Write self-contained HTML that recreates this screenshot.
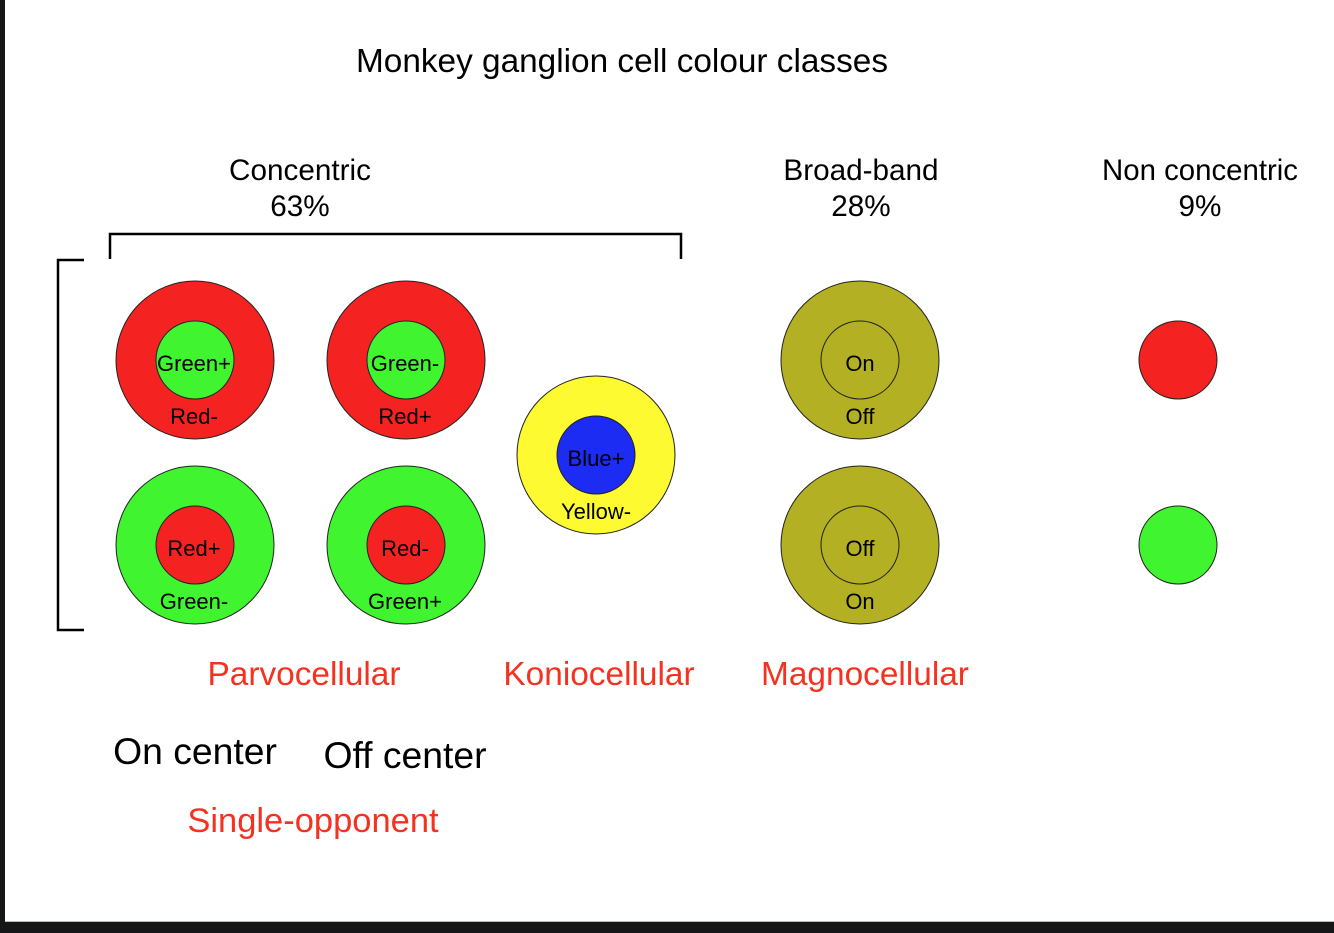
<!DOCTYPE html>
<html><head><meta charset="utf-8"><style>
html,body{margin:0;padding:0;background:#fff;}
svg{display:block;}
text{font-family:"Liberation Sans",Arial,sans-serif;}
</style></head><body>
<svg width="1334" height="933" viewBox="0 0 1334 933" xmlns="http://www.w3.org/2000/svg">
<rect x="0" y="0" width="1334" height="933" fill="#fff"/>
<rect x="0" y="0" width="5" height="933" fill="#141618"/>
<rect x="0" y="922" width="1334" height="11" fill="#141618"/>
<rect x="5" y="921" width="1329" height="1" fill="#bbb"/>

<text x="622" y="72" font-size="33" text-anchor="middle" textLength="532" lengthAdjust="spacingAndGlyphs">Monkey ganglion cell colour classes</text>
<g font-size="29.7" text-anchor="middle">
<text x="300" y="180">Concentric</text><text x="300" y="216">63%</text>
<text x="861" y="180">Broad-band</text><text x="861" y="216">28%</text>
<text x="1200" y="180" textLength="196" lengthAdjust="spacingAndGlyphs">Non concentric</text><text x="1200" y="216">9%</text>
</g>

<g fill="none" stroke="#000" stroke-width="2.5">
<polyline points="110,259 110,234 681,234 681,259"/>
<polyline points="84,260 58,260 58,630 84,630"/>
</g>

<g stroke="#222" stroke-width="1">
<circle cx="195" cy="360" r="79" fill="#f52222"/><circle cx="195" cy="360" r="39" fill="#40f52f"/>
<circle cx="406" cy="360" r="79" fill="#f52222"/><circle cx="406" cy="360" r="39" fill="#40f52f"/>
<circle cx="195" cy="545" r="79" fill="#40f52f"/><circle cx="195" cy="545" r="39" fill="#f52222"/>
<circle cx="406" cy="545" r="79" fill="#40f52f"/><circle cx="406" cy="545" r="39" fill="#f52222"/>
<circle cx="596" cy="455" r="79" fill="#fefa32"/><circle cx="596" cy="455" r="39" fill="#1c2cf2"/>
<circle cx="860" cy="360" r="79" fill="#b3b024"/><circle cx="860" cy="360" r="39" fill="#b3b024"/>
<circle cx="860" cy="545" r="79" fill="#b3b024"/><circle cx="860" cy="545" r="39" fill="#b3b024"/>
<circle cx="1178" cy="360" r="39" fill="#f52222"/>
<circle cx="1178" cy="545" r="39" fill="#40f52f"/>
</g>

<g font-size="22" text-anchor="middle" fill="#000">
<text x="194" y="371">Green+</text><text x="194" y="424">Red-</text>
<text x="405" y="371">Green-</text><text x="405" y="424">Red+</text>
<text x="194" y="556">Red+</text><text x="194" y="609">Green-</text>
<text x="405" y="556">Red-</text><text x="405" y="609">Green+</text>
<text x="596" y="466">Blue+</text><text x="596" y="519">Yellow-</text>
<text x="860" y="371">On</text><text x="860" y="424">Off</text>
<text x="860" y="556">Off</text><text x="860" y="609">On</text>
</g>

<g font-size="33.4" text-anchor="middle" fill="#f5311f">
<text x="304" y="685">Parvocellular</text>
<text x="599" y="685">Koniocellular</text>
<text x="865" y="685">Magnocellular</text>
<text x="313" y="832" font-size="34.5">Single-opponent</text>
</g>
<g font-size="37.3" text-anchor="middle" fill="#000">
<text x="195" y="764">On center</text>
<text x="405" y="768">Off center</text>
</g>
</svg>
</body></html>
